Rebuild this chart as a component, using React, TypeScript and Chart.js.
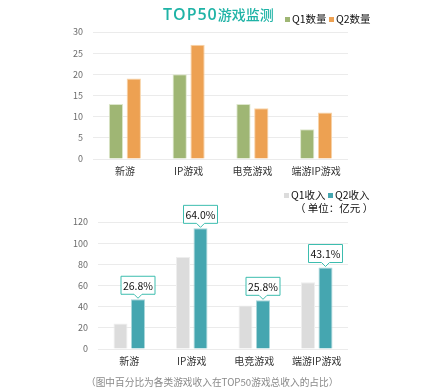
import React, { useEffect, useRef } from "react";
import { Chart, registerables } from "chart.js";

Chart.register(...registerables);

const categories = ["新游", "IP游戏", "电竞游戏", "端游IP游戏"];
const q1Count = [13, 20, 13, 7];
const q2Count = [19, 27, 12, 11];
const q1Revenue = [24, 87, 41, 63];
const q2Revenue = [47, 114, 46, 77];
const sharePct = ["26.8%", "64.0%", "25.8%", "43.1%"];

const FONT = "'Noto Sans CJK SC', 'Noto Sans', sans-serif";

const calloutPlugin = {
  id: "callout",
  afterDatasetsDraw(chart: any) {
    const meta = chart.getDatasetMeta(1);
    const ctx = chart.ctx;
    ctx.save();
    meta.data.forEach((bar: any, i: number) => {
      const label = sharePct[i];
      const w = 34;
      const h = 18;
      const cx = bar.x;
      const tip = bar.y - 1;
      const bottom = tip - 4;
      const top = bottom - h;
      const left = cx - w / 2;
      ctx.beginPath();
      ctx.moveTo(left, top);
      ctx.lineTo(left + w, top);
      ctx.lineTo(left + w, bottom);
      ctx.lineTo(cx + 4, bottom);
      ctx.lineTo(cx, tip);
      ctx.lineTo(cx - 4, bottom);
      ctx.lineTo(left, bottom);
      ctx.closePath();
      ctx.fillStyle = "#ffffff";
      ctx.fill();
      ctx.strokeStyle = "#3dbdaf";
      ctx.lineWidth = 1;
      ctx.stroke();
      ctx.fillStyle = "#111111";
      ctx.font = `10.5px ${FONT}`;
      ctx.textAlign = "center";
      ctx.textBaseline = "middle";
      ctx.fillText(label, cx, top + h / 2 + 0.5);
    });
    ctx.restore();
  },
};

function makeOptions(max: number, step: number, yWidth: number, padRight: number, padTop: number, padBottom: number): any {
  return {
    responsive: false,
    animation: false,
    maintainAspectRatio: false,
    layout: { padding: { left: 0, right: padRight, top: padTop, bottom: padBottom } },
    plugins: { legend: { display: false }, title: { display: false }, tooltip: { enabled: false } },
    scales: {
      x: {
        grid: { display: false, drawTicks: false },
        border: { display: false },
        ticks: { color: "#333333", font: { family: FONT, size: 10 }, padding: 6, maxRotation: 0 },
        afterFit(scale: any) {
          scale.height = 20;
        },
      },
      y: {
        min: 0,
        max,
        grid: { color: "#ebebeb", lineWidth: 1, drawTicks: false },
        border: { display: false },
        ticks: { stepSize: step, color: "#6b6b6b", font: { family: FONT, size: 9 }, padding: 10 },
        afterFit(scale: any) {
          scale.width = yWidth;
        },
      },
    },
  };
}

export default function App() {
  const ref1 = useRef<HTMLCanvasElement>(null);
  const ref2 = useRef<HTMLCanvasElement>(null);

  useEffect(() => {
    const c1 = new Chart(ref1.current!, {
      type: "bar",
      data: {
        labels: categories,
        datasets: [
          {
            label: "Q1数量",
            data: q1Count,
            backgroundColor: "#9fb674",
            borderColor: "#dde7cc",
            borderWidth: 1,
            categoryPercentage: 0.56,
            barPercentage: 0.8,
          },
          {
            label: "Q2数量",
            data: q2Count,
            backgroundColor: "#eda152",
            borderColor: "#f8d4a9",
            borderWidth: 1,
            categoryPercentage: 0.56,
            barPercentage: 0.8,
          },
        ],
      },
      options: makeOptions(30, 5, 93, 77, 32, 1),
    });
    const c2 = new Chart(ref2.current!, {
      type: "bar",
      data: {
        labels: categories,
        datasets: [
          {
            label: "Q1收入",
            data: q1Revenue,
            backgroundColor: "#dcdcdc",
            borderColor: "#eeeeee",
            borderWidth: 1,
            categoryPercentage: 0.56,
            barPercentage: 0.8,
          },
          {
            label: "Q2收入",
            data: q2Revenue,
            backgroundColor: "#45a6b0",
            borderColor: "#a9d6da",
            borderWidth: 1,
            categoryPercentage: 0.56,
            barPercentage: 0.8,
          },
        ],
      },
      options: makeOptions(120, 20, 98, 77, 42, 21),
      plugins: [calloutPlugin],
    });
    return () => {
      c1.destroy();
      c2.destroy();
    };
  }, []);

  const sq = (color: string) => (
    <span style={{ display: "inline-block", width: 5, height: 5, background: color, marginRight: 2, verticalAlign: "middle", position: "relative", top: -1 }} />
  );

  return (
    <div style={{ position: "absolute", left: 0, top: 0, width: 425, height: 390, background: "#ffffff", fontFamily: FONT, overflow: "hidden" }}>
      <canvas ref={ref1} width={425} height={180} style={{ position: "absolute", left: 0, top: 0 }} />
      <canvas ref={ref2} width={425} height={210} style={{ position: "absolute", left: 0, top: 180 }} />
      <div style={{ position: "absolute", left: 163, top: 3, fontSize: 14, fontWeight: 500, color: "#1fb3a6", lineHeight: "22px", whiteSpace: "nowrap" }}>
        <span style={{ fontFamily: "'Open Sans', " + FONT, fontWeight: 600, fontSize: 16, letterSpacing: 1 }}>TOP50</span>
        <span>游戏监测</span>
      </div>
      <div style={{ position: "absolute", left: 285, top: 11, fontSize: 10.5, color: "#111", lineHeight: "16px", whiteSpace: "nowrap" }}>
        {sq("#9fb674")}Q1数量 {sq("#eda152")}Q2数量
      </div>
      <div style={{ position: "absolute", left: 284, top: 188, fontSize: 10.5, color: "#111", lineHeight: "14px", whiteSpace: "nowrap" }}>
        {sq("#dcdcdc")}Q1收入 {sq("#45a6b0")}Q2收入
      </div>
      <div style={{ position: "absolute", left: 295, top: 201, fontSize: 10.5, color: "#111", lineHeight: "14px", whiteSpace: "nowrap" }}>
        （ 单位：亿元 ）
      </div>
      <div style={{ position: "absolute", left: 86, top: 375, fontSize: 9.7, color: "#8a8a8a", lineHeight: "14px", whiteSpace: "nowrap" }}>
        （图中百分比为各类游戏收入在TOP50游戏总收入的占比）
      </div>
    </div>
  );
}
